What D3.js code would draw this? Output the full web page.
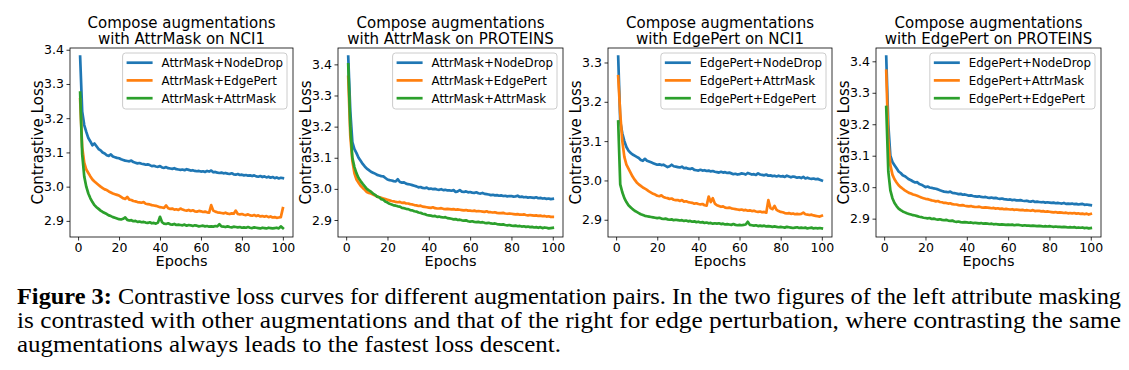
<!DOCTYPE html>
<html>
<head>
<meta charset="utf-8">
<script src="https://cdn.jsdelivr.net/npm/d3@7/dist/d3.min.js"></script>
<style>
  body { margin: 0; background: #fff; }
  svg { display: block; }
</style>
</head>
<body>
<svg id="fig" width="1129" height="370"></svg>
<script>
// ---- data ----
const epochs = d3.range(1, 101);
const xTicks = [0, 20, 40, 60, 80, 100];
const seriesColors = ["#1f77b4", "#ff7f0e", "#2ca02c"];

const titles = [
  ["Compose augmentations", "with AttrMask on NCI1"],
  ["Compose augmentations", "with AttrMask on PROTEINS"],
  ["Compose augmentations", "with EdgePert on NCI1"],
  ["Compose augmentations", "with EdgePert on PROTEINS"]
];
const attrMaskNames = ["AttrMask+NodeDrop", "AttrMask+EdgePert", "AttrMask+AttrMask"];
const edgePertNames = ["EdgePert+NodeDrop", "EdgePert+AttrMask", "EdgePert+EdgePert"];

// AttrMask on NCI1
const amNci1NodeDrop = [
  3.380, 3.220, 3.180, 3.160, 3.142, 3.132, 3.121, 3.126, 3.118, 3.110,
  3.106, 3.100, 3.097, 3.092, 3.090, 3.094, 3.088, 3.086, 3.084, 3.083,
  3.080, 3.078, 3.076, 3.075, 3.074, 3.076, 3.072, 3.070, 3.068, 3.069,
  3.067, 3.066, 3.064, 3.065, 3.063, 3.060, 3.061, 3.059, 3.058, 3.060,
  3.056, 3.055, 3.057, 3.054, 3.053, 3.052, 3.054, 3.051, 3.050, 3.049,
  3.050, 3.048, 3.051, 3.049, 3.047, 3.048, 3.046, 3.045, 3.046, 3.044,
  3.045, 3.043, 3.046, 3.044, 3.047, 3.042, 3.043, 3.041, 3.040, 3.041,
  3.039, 3.040, 3.038, 3.037, 3.039, 3.036, 3.035, 3.037, 3.034, 3.035,
  3.033, 3.034, 3.032, 3.033, 3.031, 3.033, 3.030, 3.029, 3.031, 3.028,
  3.030, 3.027, 3.029, 3.026, 3.028, 3.025, 3.027, 3.024, 3.026, 3.025
];
const amNci1EdgePert = [
  3.255, 3.115, 3.070, 3.050, 3.040, 3.030, 3.021, 3.015, 3.010, 3.005,
  3.000, 2.996, 2.992, 2.990, 2.986, 2.983, 2.980, 2.978, 2.976, 2.974,
  2.970, 2.966, 2.964, 2.970, 2.962, 2.961, 2.958, 2.957, 2.955, 2.954,
  2.953, 2.955, 2.950, 2.949, 2.948, 2.946, 2.945, 2.944, 2.942, 2.940,
  2.939, 2.938, 2.945, 2.937, 2.935, 2.936, 2.933, 2.934, 2.932, 2.936,
  2.933, 2.931, 2.930, 2.932, 2.929, 2.931, 2.928, 2.927, 2.929, 2.928,
  2.926, 2.927, 2.925, 2.924, 2.946, 2.930, 2.927, 2.925, 2.924, 2.923,
  2.922, 2.924, 2.921, 2.920, 2.922, 2.921, 2.930, 2.920, 2.919, 2.920,
  2.918, 2.917, 2.919, 2.916, 2.915, 2.917, 2.914, 2.916, 2.913, 2.914,
  2.912, 2.914, 2.911, 2.913, 2.910, 2.911, 2.909, 2.910, 2.911, 2.937
];
const amNci1AttrMask = [
  3.275, 3.095, 3.030, 3.000, 2.980, 2.966, 2.955, 2.946, 2.940, 2.935,
  2.930, 2.926, 2.923, 2.920, 2.916, 2.914, 2.911, 2.909, 2.907, 2.905,
  2.904, 2.906, 2.910, 2.903, 2.901, 2.902, 2.899, 2.900, 2.897, 2.898,
  2.896, 2.897, 2.895, 2.894, 2.896, 2.893, 2.894, 2.892, 2.895, 2.912,
  2.896, 2.892, 2.891, 2.893, 2.890, 2.889, 2.891, 2.888, 2.889, 2.888,
  2.887, 2.889, 2.886, 2.888, 2.887, 2.885, 2.887, 2.886, 2.884, 2.885,
  2.886, 2.884, 2.885, 2.883, 2.884, 2.883, 2.885, 2.884, 2.890, 2.884,
  2.883, 2.882, 2.884, 2.882, 2.881, 2.883, 2.882, 2.881, 2.882, 2.880,
  2.881, 2.880, 2.882, 2.880, 2.879, 2.881, 2.880, 2.879, 2.878, 2.880,
  2.879, 2.878, 2.880, 2.879, 2.878, 2.879, 2.880, 2.878, 2.884, 2.879
];

// AttrMask on PROTEINS
const amProtNodeDrop = [
  3.425, 3.250, 3.150, 3.128, 3.115, 3.100, 3.090, 3.080, 3.072, 3.065,
  3.060, 3.055, 3.052, 3.049, 3.045, 3.043, 3.041, 3.040, 3.035, 3.030,
  3.028, 3.027, 3.025, 3.024, 3.031, 3.022, 3.020, 3.021, 3.017, 3.015,
  3.014, 3.012, 3.010, 3.008, 3.005, 3.006, 3.003, 3.002, 3.004, 3.000,
  3.001, 2.999, 3.000, 2.998, 2.997, 2.999, 2.996, 2.997, 2.995, 2.995,
  2.994, 2.996, 2.990, 2.992, 2.996, 2.991, 2.990, 2.992, 2.989, 2.990,
  2.988, 2.987, 2.989, 2.986, 2.985, 2.987, 2.984, 2.983, 2.982, 2.980,
  2.981, 2.979, 2.980, 2.978, 2.979, 2.977, 2.978, 2.976, 2.977, 2.977,
  2.975, 2.976, 2.978, 2.974, 2.975, 2.973, 2.974, 2.972, 2.973, 2.972,
  2.971, 2.973, 2.970, 2.971, 2.969, 2.970, 2.968, 2.969, 2.967, 2.968
];
const amProtEdgePert = [
  3.360, 3.170, 3.090, 3.050, 3.030, 3.020, 3.010, 3.003, 2.997, 2.990,
  2.987, 2.985, 2.982, 2.979, 2.975, 2.973, 2.971, 2.969, 2.967, 2.965,
  2.963, 2.961, 2.960, 2.958, 2.957, 2.958, 2.955, 2.956, 2.953, 2.953,
  2.951, 2.950, 2.948, 2.947, 2.945, 2.946, 2.943, 2.942, 2.941, 2.940,
  2.939, 2.941, 2.938, 2.937, 2.937, 2.938, 2.936, 2.935, 2.936, 2.935,
  2.934, 2.935, 2.933, 2.934, 2.933, 2.932, 2.931, 2.932, 2.930, 2.930,
  2.929, 2.930, 2.928, 2.929, 2.928, 2.927, 2.926, 2.928, 2.925, 2.925,
  2.924, 2.925, 2.923, 2.922, 2.922, 2.923, 2.921, 2.920, 2.921, 2.920,
  2.919, 2.918, 2.919, 2.917, 2.917, 2.918, 2.916, 2.915, 2.916, 2.915,
  2.914, 2.915, 2.913, 2.914, 2.912, 2.913, 2.911, 2.912, 2.910, 2.910
];
const amProtAttrMask = [
  3.400, 3.200, 3.100, 3.070, 3.050, 3.035, 3.025, 3.016, 3.008, 3.000,
  2.995, 2.991, 2.985, 2.981, 2.975, 2.973, 2.967, 2.965, 2.959, 2.956,
  2.952, 2.950, 2.947, 2.946, 2.944, 2.943, 2.939, 2.938, 2.936, 2.935,
  2.932, 2.931, 2.928, 2.927, 2.924, 2.923, 2.920, 2.919, 2.916, 2.915,
  2.914, 2.912, 2.913, 2.910, 2.911, 2.909, 2.908, 2.909, 2.906, 2.905,
  2.904, 2.902, 2.903, 2.900, 2.901, 2.899, 2.898, 2.899, 2.896, 2.895,
  2.896, 2.894, 2.893, 2.894, 2.892, 2.893, 2.891, 2.890, 2.891, 2.889,
  2.888, 2.889, 2.887, 2.886, 2.885, 2.886, 2.884, 2.883, 2.884, 2.882,
  2.881, 2.882, 2.880, 2.881, 2.879, 2.880, 2.878, 2.879, 2.877, 2.878,
  2.876, 2.877, 2.875, 2.877, 2.874, 2.876, 2.875, 2.873, 2.874, 2.875
];

// EdgePert on NCI1
const epNci1NodeDrop = [
  3.315, 3.150, 3.120, 3.100, 3.085, 3.076, 3.070, 3.066, 3.063, 3.060,
  3.057, 3.052, 3.050, 3.055, 3.050, 3.048, 3.046, 3.044, 3.042, 3.040,
  3.041, 3.039, 3.040, 3.037, 3.034, 3.036, 3.040, 3.036, 3.035, 3.034,
  3.033, 3.035, 3.031, 3.032, 3.030, 3.029, 3.031, 3.027, 3.026, 3.025,
  3.027, 3.025, 3.026, 3.024, 3.025, 3.023, 3.024, 3.022, 3.021, 3.020,
  3.022, 3.020, 3.021, 3.019, 3.020, 3.018, 3.016, 3.017, 3.015, 3.016,
  3.018, 3.017, 3.015, 3.019, 3.017, 3.015, 3.016, 3.014, 3.018, 3.015,
  3.014, 3.013, 3.015, 3.012, 3.013, 3.011, 3.012, 3.010, 3.012, 3.010,
  3.011, 3.009, 3.012, 3.010, 3.008, 3.010, 3.009, 3.007, 3.008, 3.006,
  3.009, 3.005, 3.007, 3.005, 3.004, 3.005, 3.003, 3.004, 3.002, 3.000
];
const epNci1AttrMask = [
  3.265, 3.170, 3.100, 3.060, 3.040, 3.030, 3.020, 3.010, 3.002, 2.995,
  2.990, 2.986, 2.982, 2.979, 2.976, 2.972, 2.969, 2.966, 2.964, 2.961,
  2.960, 2.962, 2.958, 2.956, 2.955, 2.953, 2.954, 2.951, 2.950, 2.950,
  2.948, 2.950, 2.946, 2.947, 2.945, 2.944, 2.943, 2.941, 2.942, 2.940,
  2.939, 2.940, 2.937, 2.936, 2.959, 2.945, 2.955, 2.941, 2.937, 2.935,
  2.933, 2.934, 2.931, 2.930, 2.931, 2.929, 2.928, 2.927, 2.926, 2.925,
  2.926, 2.924, 2.925, 2.923, 2.924, 2.922, 2.923, 2.921, 2.920, 2.921,
  2.919, 2.920, 2.918, 2.950, 2.930, 2.927, 2.935, 2.925, 2.922, 2.920,
  2.919, 2.917, 2.916, 2.917, 2.915, 2.916, 2.914, 2.915, 2.914, 2.915,
  2.918, 2.914, 2.913, 2.912, 2.913, 2.911, 2.910, 2.909, 2.908, 2.910
];
const epNci1EdgePert = [
  3.150, 2.990, 2.970, 2.955, 2.945, 2.937, 2.932, 2.927, 2.923, 2.920,
  2.917, 2.914, 2.912, 2.910, 2.909, 2.908, 2.907, 2.906, 2.905, 2.904,
  2.905, 2.903, 2.902, 2.903, 2.901, 2.900, 2.901, 2.899, 2.900, 2.899,
  2.898, 2.899, 2.897, 2.898, 2.896, 2.897, 2.895, 2.896, 2.894, 2.895,
  2.893, 2.894, 2.892, 2.893, 2.891, 2.892, 2.890, 2.891, 2.890, 2.891,
  2.889, 2.890, 2.888, 2.889, 2.888, 2.887, 2.889, 2.887, 2.886, 2.887,
  2.886, 2.887, 2.888, 2.895, 2.887, 2.886, 2.885, 2.886, 2.884, 2.885,
  2.884, 2.885, 2.883, 2.884, 2.883, 2.882, 2.883, 2.882, 2.881, 2.882,
  2.881, 2.880, 2.882, 2.881, 2.880, 2.879, 2.880, 2.881, 2.879, 2.880,
  2.879, 2.880, 2.878, 2.879, 2.880, 2.878, 2.879, 2.878, 2.879, 2.878
];

// EdgePert on PROTEINS
const epProtNodeDrop = [
  3.415, 3.200, 3.100, 3.080, 3.070, 3.060, 3.050, 3.045, 3.038, 3.035,
  3.030, 3.025, 3.022, 3.018, 3.015, 3.016, 3.010, 3.008, 3.004, 3.000,
  3.002, 2.999, 2.998, 2.996, 2.995, 2.993, 2.990, 2.988, 2.986, 2.985,
  2.984, 2.986, 2.982, 2.981, 2.980, 2.978, 2.979, 2.976, 2.977, 2.975,
  2.973, 2.974, 2.972, 2.971, 2.970, 2.971, 2.969, 2.968, 2.969, 2.967,
  2.966, 2.967, 2.965, 2.966, 2.964, 2.963, 2.964, 2.962, 2.961, 2.960,
  2.961, 2.959, 2.960, 2.958, 2.958, 2.959, 2.957, 2.956, 2.957, 2.955,
  2.954, 2.956, 2.953, 2.954, 2.953, 2.952, 2.953, 2.951, 2.952, 2.951,
  2.950, 2.951, 2.949, 2.950, 2.949, 2.948, 2.950, 2.947, 2.948, 2.947,
  2.948, 2.946, 2.947, 2.945, 2.946, 2.947, 2.944, 2.945, 2.944, 2.943
];
const epProtAttrMask = [
  3.370, 3.150, 3.070, 3.040, 3.025, 3.015, 3.006, 3.000, 2.995, 2.990,
  2.986, 2.982, 2.980, 2.977, 2.975, 2.973, 2.970, 2.967, 2.965, 2.963,
  2.962, 2.960, 2.958, 2.957, 2.955, 2.956, 2.953, 2.952, 2.950, 2.950,
  2.948, 2.949, 2.946, 2.945, 2.945, 2.943, 2.942, 2.943, 2.941, 2.940,
  2.939, 2.940, 2.938, 2.937, 2.937, 2.938, 2.936, 2.935, 2.936, 2.935,
  2.934, 2.933, 2.934, 2.932, 2.933, 2.931, 2.932, 2.930, 2.931, 2.930,
  2.929, 2.930, 2.928, 2.929, 2.928, 2.927, 2.928, 2.926, 2.927, 2.926,
  2.925, 2.927, 2.924, 2.925, 2.925, 2.923, 2.924, 2.922, 2.923, 2.922,
  2.921, 2.920, 2.921, 2.919, 2.920, 2.919, 2.918, 2.919, 2.917, 2.918,
  2.917, 2.918, 2.916, 2.917, 2.915, 2.916, 2.914, 2.916, 2.913, 2.915
];
const epProtEdgePert = [
  3.255, 3.050, 2.990, 2.965, 2.950, 2.940, 2.932, 2.927, 2.923, 2.920,
  2.917, 2.915, 2.913, 2.911, 2.910, 2.908, 2.906, 2.905, 2.903, 2.902,
  2.901, 2.902, 2.899, 2.900, 2.898, 2.897, 2.898, 2.896, 2.895, 2.896,
  2.894, 2.893, 2.894, 2.891, 2.890, 2.891, 2.889, 2.888, 2.889, 2.888,
  2.887, 2.888, 2.886, 2.887, 2.886, 2.885, 2.886, 2.884, 2.885, 2.884,
  2.883, 2.884, 2.882, 2.883, 2.882, 2.881, 2.882, 2.881, 2.880, 2.881,
  2.880, 2.881, 2.879, 2.880, 2.880, 2.879, 2.878, 2.879, 2.878, 2.878,
  2.877, 2.878, 2.877, 2.876, 2.877, 2.876, 2.875, 2.876, 2.875, 2.876,
  2.875, 2.874, 2.875, 2.874, 2.874, 2.873, 2.874, 2.873, 2.872, 2.873,
  2.872, 2.873, 2.871, 2.872, 2.871, 2.872, 2.870, 2.871, 2.869, 2.870
];

const captionLines = [
  "Contrastive loss curves for different augmentation pairs. In the two figures of the left attribute masking",
  "is contrasted with other augmentations and that of the right for edge perturbation, where contrasting the same",
  "augmentations always leads to the fastest loss descent."
];

// ---- layout ----
const panels = [
  { title: titles[0], names: attrMaskNames, series: [amNci1NodeDrop, amNci1EdgePert, amNci1AttrMask], left: 70, right: 293 },
  { title: titles[1], names: attrMaskNames, series: [amProtNodeDrop, amProtEdgePert, amProtAttrMask], left: 338, right: 563 },
  { title: titles[2], names: edgePertNames, series: [epNci1NodeDrop, epNci1AttrMask, epNci1EdgePert], left: 608, right: 832 },
  { title: titles[3], names: edgePertNames, series: [epProtNodeDrop, epProtAttrMask, epProtEdgePert], left: 876, right: 1101 }
];
const plotTop = 48, plotBottom = 237;
const font = "'DejaVu Sans', sans-serif";

const svg = d3.select("#fig");

panels.forEach((p, pi) => {
  const g = svg.append("g");

  // matplotlib style auto limits: 5% margin on each side
  const xPad = (d3.max(epochs) - d3.min(epochs)) * 0.05;
  const x = d3.scaleLinear()
    .domain([d3.min(epochs) - xPad, d3.max(epochs) + xPad])
    .range([p.left, p.right]);
  const lo = d3.min(p.series, s => d3.min(s));
  const hi = d3.max(p.series, s => d3.max(s));
  const yPad = (hi - lo) * 0.05;
  const y = d3.scaleLinear().domain([lo - yPad, hi + yPad]).range([plotBottom, plotTop]);

  const yTicks = d3.range(Math.ceil((lo - yPad) * 10), Math.floor((hi + yPad) * 10) + 1).map(v => v / 10);

  // clip for curves
  g.append("clipPath").attr("id", "clip" + pi)
    .append("rect")
    .attr("x", p.left).attr("y", plotTop)
    .attr("width", p.right - p.left).attr("height", plotBottom - plotTop);

  // curves
  const line = d3.line().x((d, i) => x(epochs[i])).y(d => y(d));
  g.append("g").attr("clip-path", `url(#clip${pi})`)
    .selectAll("path")
    .data(p.series)
    .enter()
    .append("path")
    .attr("d", line)
    .attr("fill", "none")
    .attr("stroke", (d, i) => seriesColors[i])
    .attr("stroke-width", 2.7)
    .attr("stroke-linejoin", "round")
    .attr("stroke-linecap", "square");

  // axes
  const xAxis = g.append("g")
    .attr("transform", `translate(0,${plotBottom})`)
    .call(d3.axisBottom(x).tickValues(xTicks).tickSize(3.5).tickPadding(2.5).tickSizeOuter(0));
  const yAxis = g.append("g")
    .attr("transform", `translate(${p.left},0)`)
    .call(d3.axisLeft(y).tickValues(yTicks).tickFormat(d3.format(".1f")).tickSize(3.5).tickPadding(2.5).tickSizeOuter(0));
  [xAxis, yAxis].forEach(a => {
    a.select(".domain").remove();
    a.selectAll("line").attr("stroke", "#000").attr("stroke-width", 0.8);
    a.selectAll("text").attr("fill", "#000").style("font-family", font).style("font-size", "12.5px");
  });

  // frame (all four spines)
  g.append("rect")
    .attr("x", p.left).attr("y", plotTop)
    .attr("width", p.right - p.left).attr("height", plotBottom - plotTop)
    .attr("fill", "none").attr("stroke", "#000").attr("stroke-width", 0.8);

  // titles
  const cx = (p.left + p.right) / 2;
  g.selectAll("text.title")
    .data(p.title)
    .enter()
    .append("text")
    .attr("class", "title")
    .attr("x", cx)
    .attr("y", (d, i) => 28.3 + i * 16)
    .attr("text-anchor", "middle")
    .style("font-family", font)
    .style("font-size", "15px")
    .text(d => d);

  // axis labels
  g.append("text")
    .attr("x", cx).attr("y", 266)
    .attr("text-anchor", "middle")
    .style("font-family", font).style("font-size", "14.5px")
    .text("Epochs");
  g.append("text")
    .attr("transform", `translate(${p.left - 27.5},${(plotTop + plotBottom) / 2}) rotate(-90)`)
    .attr("text-anchor", "middle")
    .style("font-family", font).style("font-size", "15px")
    .text("Contrastive Loss");

  // legend
  const leg = g.append("g");
  const legBox = leg.append("rect");
  const rowY = [62.7, 80.4, 98.2];
  const texts = leg.selectAll("text")
    .data(p.names)
    .enter()
    .append("text")
    .attr("y", (d, i) => rowY[i] + 4.3)
    .style("font-family", font).style("font-size", "11.8px")
    .attr("fill", "#000")
    .text(d => d);
  let maxW = 0;
  texts.each(function () { maxW = Math.max(maxW, this.getComputedTextLength()); });
  const boxRight = p.right - 6;
  const textX = boxRight - 4 - maxW;
  const handleX1 = textX - 9 - 26;
  texts.attr("x", textX);
  leg.selectAll("line")
    .data(p.names)
    .enter()
    .append("line")
    .attr("x1", handleX1).attr("x2", handleX1 + 26)
    .attr("y1", (d, i) => rowY[i]).attr("y2", (d, i) => rowY[i])
    .attr("stroke", (d, i) => seriesColors[i])
    .attr("stroke-width", 2.7);
  legBox
    .attr("x", handleX1 - 4).attr("y", plotTop + 5)
    .attr("width", boxRight - (handleX1 - 4)).attr("height", 56)
    .attr("rx", 3)
    .attr("fill", "#fff").attr("fill-opacity", 0.8)
    .attr("stroke", "#ccc").attr("stroke-width", 1);
});

// caption
const cap = svg.append("g")
  .style("font-family", "'Liberation Serif', 'Times New Roman', serif")
  .style("font-size", "23px")
  .attr("fill", "#000");
const capBase = [303.5, 327.5, 351.5];
const capLen = [1104, 1104, 544];
captionLines.forEach((t, i) => {
  const txt = cap.append("text")
    .attr("x", 17).attr("y", capBase[i])
    .attr("textLength", capLen[i])
    .attr("lengthAdjust", "spacingAndGlyphs");
  if (i === 0) {
    txt.append("tspan").style("font-weight", "bold").text("Figure 3:");
    txt.append("tspan").text(" " + t);
  } else {
    txt.text(t);
  }
});
</script>
</body>
</html>
